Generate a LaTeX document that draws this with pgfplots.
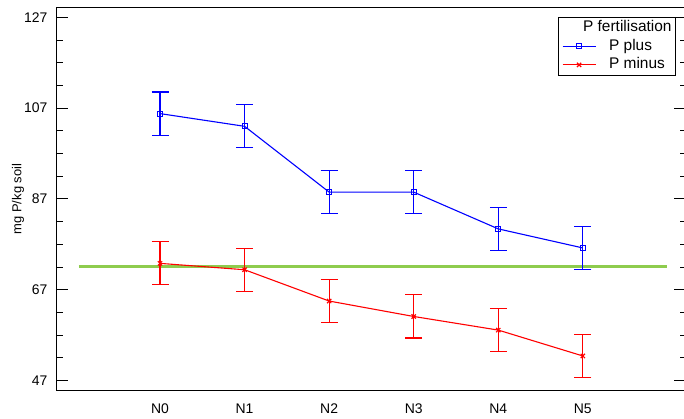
\documentclass[border=0pt]{standalone}
\usepackage{fontspec}
\setmainfont{Liberation Sans}
\usepackage{pgfplots}
\pgfplotsset{compat=1.18}
\definecolor{refgreen}{RGB}{142,204,78}
\definecolor{pblue}{RGB}{0,0,255}
\definecolor{pred}{RGB}{255,0,0}
\begin{document}
\begin{tikzpicture}
\begin{axis}[
  at={(0,0)}, anchor=south west,
  width=630bp, height=382bp, scale only axis,
  xmin=-1.23, xmax=6.22, ymin=44.9, ymax=129.07,
  xtick={0,1,2,3,4,5}, xticklabels={N0,N1,N2,N3,N4,N5},
  ytick={47,67,87,107,127}, minor y tick num=3,
  tick align=inside,
  major tick length=12bp, minor tick length=6.5bp,
  xtick style={draw=none},
  every tick/.style={black, line width=1bp},
  axis line style={black, line width=1bp},
  /pgf/number format/assume math mode=true,
  tick label style={font=\fontsize{14}{16}\selectfont},
  yticklabel style={xshift=-5bp},
  xticklabel style={yshift=-10bp},
  ylabel={mg P/kg soil},
  ylabel style={at={(axis description cs:-0.0603,0.5)}, anchor=center, font=\fontsize{13}{15}\selectfont},
  legend style={at={(0.984,0.9764)}, anchor=north east, draw=black, line width=0.8bp,
    font=\fontsize{15.5}{17}\selectfont, row sep=3bp, column sep=0bp,
    inner xsep=4bp, inner ysep=2.75bp,
    nodes={inner sep=0bp, text height=11.5bp, text depth=4bp},
    /tikz/every odd column/.append style={column sep=13bp}},
  legend cell align=left,
  legend image code/.code={\draw[mark repeat=2,mark phase=2] plot coordinates {(0bp,0bp)(16.5bp,0bp)(33bp,0bp)};},
]
\addlegendimage{empty legend}
\addlegendentry{\hspace{-26bp}P fertilisation}

\addplot[refgreen, line width=3bp, forget plot] coordinates {(-0.96,72.2) (6.0,72.2)};

\addplot[pblue, line width=1.1bp, mark=square, mark size=2.5bp,
  mark options={line width=0.9bp},
  error bars/.cd, y dir=both, y explicit,
  error bar style={line width=1.1bp},
  error mark options={rotate=90, mark size=8.5bp, line width=1.1bp}]
  coordinates {
  (0,105.8) +- (0,4.75)
  (1,103.0) +- (0,4.75)
  (2,88.5) +- (0,4.75)
  (3,88.5) +- (0,4.75)
  (4,80.4) +- (0,4.75)
  (5,76.2) +- (0,4.75)
  };
\addlegendentry{P plus}

\addplot[pred, line width=1.1bp, mark=x, mark size=3bp,
  mark options={line width=1.2bp},
  error bars/.cd, y dir=both, y explicit,
  error bar style={line width=1.1bp},
  error mark options={rotate=90, mark size=8.5bp, line width=1.1bp}]
  coordinates {
  (0,72.8) +- (0,4.75)
  (1,71.4) +- (0,4.75)
  (2,64.5) +- (0,4.75)
  (3,61.1) +- (0,4.75)
  (4,58.1) +- (0,4.75)
  (5,52.4) +- (0,4.75)
  };
\addlegendentry{P minus}
\end{axis}
\pgfresetboundingbox
\useasboundingbox (-56bp,-29bp) rectangle (628bp,390bp);
\end{tikzpicture}
\end{document}
